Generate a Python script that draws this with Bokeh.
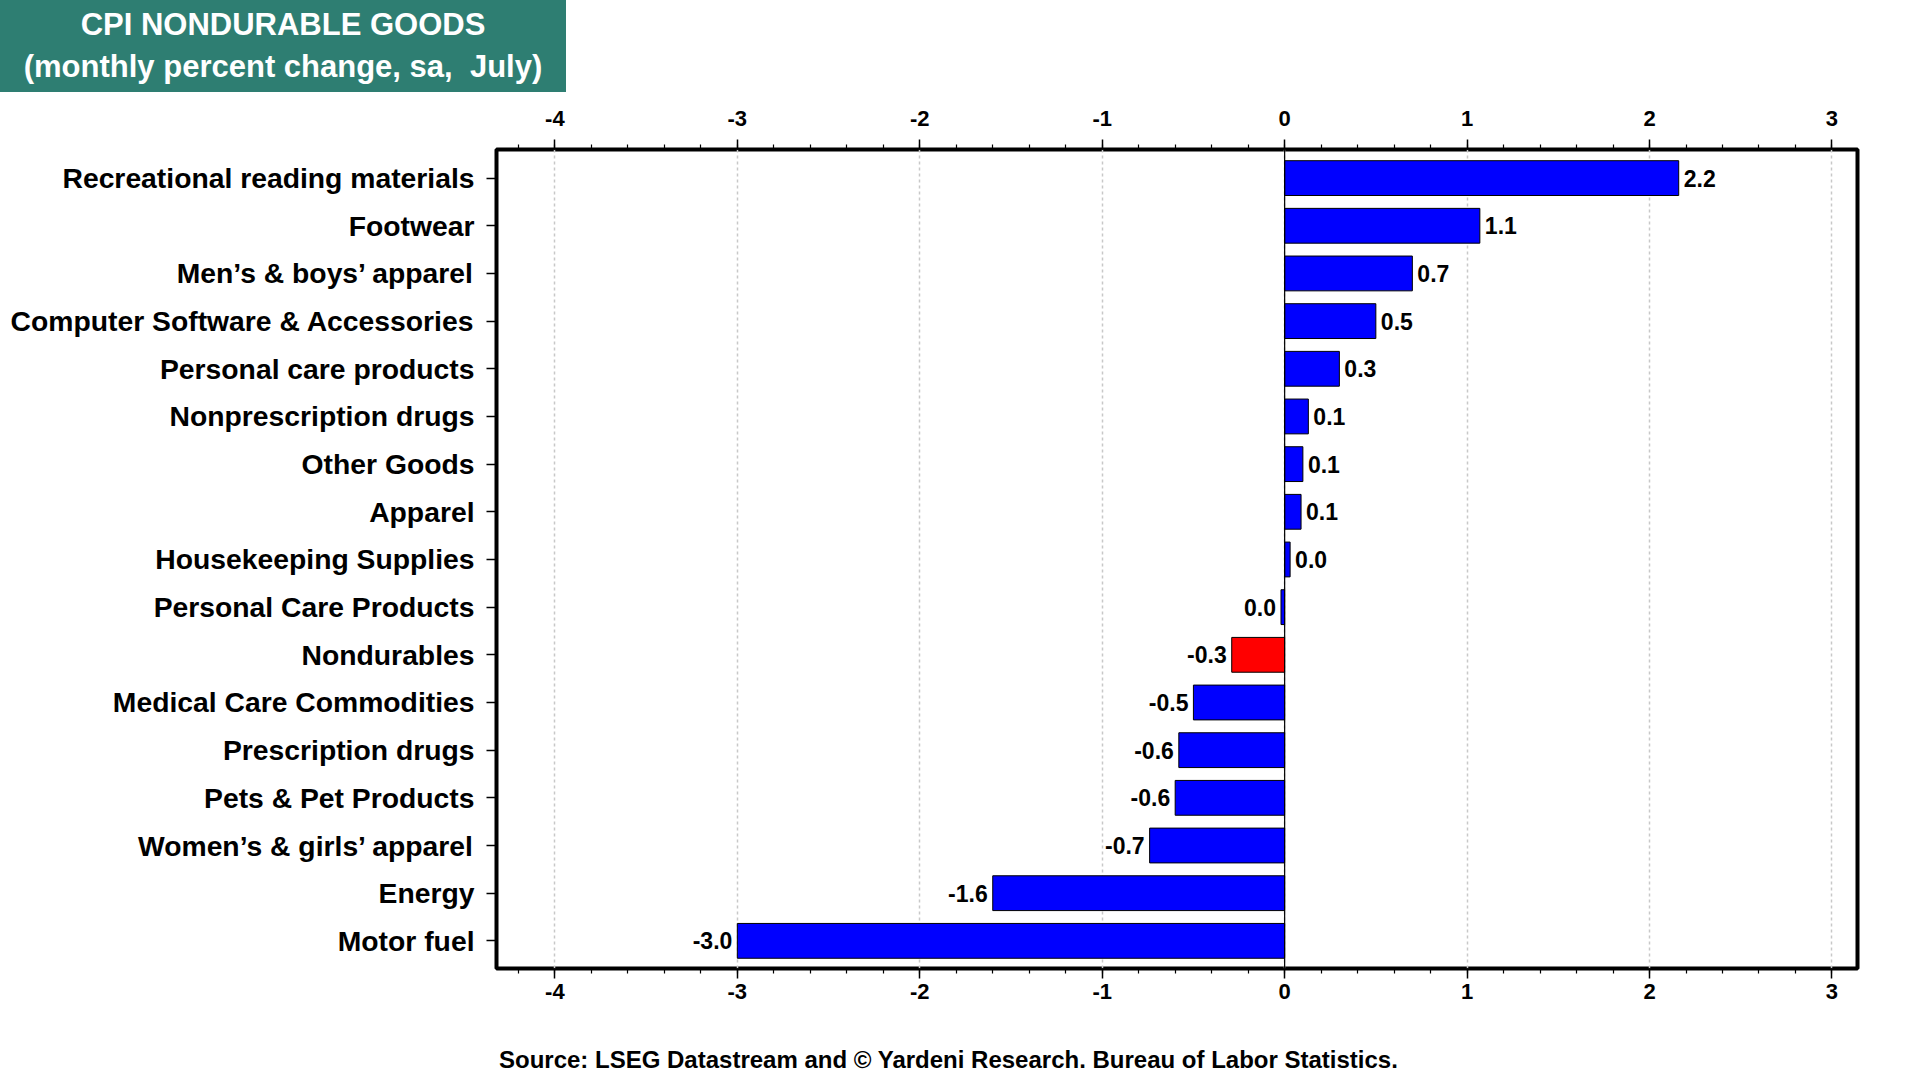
from bokeh.plotting import figure
from bokeh.layouts import column
from bokeh.models import Range1d, Span, ColumnDataSource, FixedTicker, SingleIntervalTicker, LinearAxis, Div
from bokeh.embed import file_html
from bokeh.resources import INLINE
from bokeh.core.properties import value

# ---- data ----
categories = [
    "Recreational reading materials",
    "Footwear",
    "Men\u2019s & boys\u2019 apparel",
    "Computer Software & Accessories",
    "Personal care products",
    "Nonprescription drugs",
    "Other Goods",
    "Apparel",
    "Housekeeping Supplies",
    "Personal Care Products",
    "Nondurables",
    "Medical Care Commodities",
    "Prescription drugs",
    "Pets & Pet Products",
    "Women\u2019s & girls\u2019 apparel",
    "Energy",
    "Motor fuel",
]
values = [2.16, 1.07, 0.70, 0.50, 0.30, 0.13, 0.10, 0.09, 0.03, -0.02,
          -0.29, -0.50, -0.58, -0.60, -0.74, -1.60, -3.00]
highlight = "Nondurables"
x_ticks = [-4, -3, -2, -1, 0, 1, 2, 3]
title_lines = ["CPI NONDURABLE GOODS", "(monthly percent change, sa,&nbsp; July)"]
source_text = "Source: LSEG Datastream and \u00a9 Yardeni Research. Bureau of Labor Statistics."

FONT = "Liberation Sans"
TEAL = "#2E7E72"

n = len(categories)
ypos = [n - 1 - i for i in range(n)]
colors = ["#FF0000" if c == highlight else "#0000FF" for c in categories]


def fmt(v):
    s = f"{v:.1f}"
    return "0.0" if s == "-0.0" else s


labels = [fmt(v) for v in values]

W = 1904
TH = 92            # title box height
MH = 1040 - TH     # main figure height
SH = 38            # source strip height
FL, FR, FT, FB = 496, 1857, 149, 968   # frame edges in page pixels
X0, X1 = -4.32, 3.14
Y0, Y1 = -0.58, 16.6

# ---- title box ----
TW = 566
title_html = (
    f'<div style="width:{TW}px;height:{TH}px;background:{TEAL};color:white;'
    f"font-family:'{FONT}';font-weight:bold;font-size:31px;line-height:42px;"
    'text-align:center;box-sizing:border-box;padding-top:4px;white-space:nowrap;">'
    + "<br>".join(title_lines) + "</div>"
)
t = Div(text=title_html, width=TW, height=TH, margin=0)

# ---- main chart ----
p = figure(width=W, height=MH, x_range=Range1d(X0, X1), y_range=Range1d(Y0, Y1),
           output_backend="svg", toolbar_location=None,
           min_border_left=FL, min_border_right=W - FR,
           min_border_top=FT - TH, min_border_bottom=TH + MH - FB,
           x_axis_location="below")

p.outline_line_color = "black"
p.outline_line_width = 4
p.background_fill_color = "white"
p.border_fill_color = "white"

xticker = SingleIntervalTicker(interval=1, num_minor_ticks=5)
p.xaxis.ticker = xticker
top_axis = LinearAxis(ticker=SingleIntervalTicker(interval=1, num_minor_ticks=5))
p.add_layout(top_axis, "above")

for ax in p.xaxis:
    ax.axis_line_color = None
    ax.major_tick_out = 10
    ax.major_tick_in = 0
    ax.minor_tick_out = 5
    ax.minor_tick_in = 0
    ax.major_tick_line_color = "black"
    ax.minor_tick_line_color = "black"
    ax.major_tick_line_width = 1.5
    ax.minor_tick_line_width = 1.2
    ax.major_label_text_font = FONT
    ax.major_label_text_font_style = "bold"
    ax.major_label_text_font_size = "22px"
    ax.major_label_text_color = "black"
    ax.major_label_standoff = 5
    ax.major_label_overrides = {tk: str(tk) for tk in x_ticks}
top_axis.major_label_standoff = 14

yax = p.yaxis[0]
yax.ticker = FixedTicker(ticks=ypos)
yax.major_label_overrides = {yp: c for yp, c in zip(ypos, categories)}
yax.axis_line_color = None
yax.major_tick_out = 10
yax.major_tick_in = 0
yax.minor_tick_line_color = None
yax.major_tick_line_color = "black"
yax.major_tick_line_width = 1.5
yax.major_label_text_font = FONT
yax.major_label_text_font_style = "bold"
yax.major_label_text_font_size = "28.3px"
yax.major_label_text_color = "black"
yax.major_label_standoff = 12

p.xgrid.ticker = xticker
p.xgrid.grid_line_color = "#c8c8c8"
p.xgrid.grid_line_dash = "3 3"
p.xgrid.grid_line_width = 1.5
p.ygrid.visible = False

src = ColumnDataSource(dict(y=ypos, v=values, color=colors, lab=labels))
p.hbar(y="y", left=0, right="v", height=0.73, fill_color="color", line_color="black",
       line_width=1, source=src)

p.add_layout(Span(location=0, dimension="height", line_color="black", line_width=1.2))

pos = [i for i, v in enumerate(values) if v >= 0]
neg = [i for i, v in enumerate(values) if v < 0]
src_pos = ColumnDataSource(dict(y=[ypos[i] for i in pos], v=[values[i] for i in pos],
                                lab=[labels[i] for i in pos]))
src_neg = ColumnDataSource(dict(y=[ypos[i] for i in neg], v=[values[i] for i in neg],
                                lab=[labels[i] for i in neg]))
common = dict(text_font=value(FONT), text_font_style="bold", text_font_size="23px",
              text_baseline="middle", text_color="black")
p.text(x="v", y="y", text="lab", x_offset=5, text_align="left", source=src_pos, **common)
p.text(x="v", y="y", text="lab", x_offset=-5, text_align="right", source=src_neg, **common)

# ---- source strip ----
source_html = (
    f'<div style="width:{W}px;height:{SH}px;box-sizing:border-box;padding-left:499px;'
    f"padding-top:4px;font-family:'{FONT}';font-weight:bold;font-size:24px;line-height:32px;"
    'color:black;white-space:nowrap;">' + source_text + "</div>"
)
s = Div(text=source_html, width=W, height=SH, margin=0)

layout = column(t, p, s, spacing=0)
open("out.html", "w").write(file_html(layout, INLINE))
